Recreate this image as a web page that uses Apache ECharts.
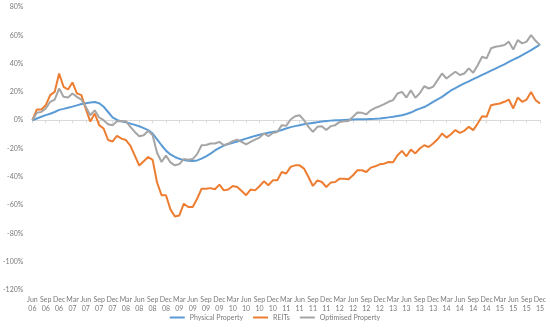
<!DOCTYPE html>
<html><head><meta charset="utf-8">
<script src="https://cdn.jsdelivr.net/npm/echarts@6/dist/echarts.min.js"></script>
<style>html,body{margin:0;padding:0;background:#fff}#c{width:550px;height:330px}</style>
</head><body><div id="c"></div>
<script>
// Monthly categories Jun 06 .. Dec 15
const monthNames = ['Jan','Feb','Mar','Apr','May','Jun','Jul','Aug','Sep','Oct','Nov','Dec'];
const categories = [];
for (let y = 2006, m = 5; y < 2015 || (y === 2015 && m <= 11); ) {
  categories.push(monthNames[m] + '\n' + String(y % 100).padStart(2, '0'));
  m++; if (m > 11) { m = 0; y++; }
}
const yTicks = [-120,-100,-80,-60,-40,-20,0,20,40,60,80];

const physical = [
 0,1.2,2.4,3.6,4.6,5.8,7.3,8.0,8.8,9.6,10.5,11.4,12.0,12.5,12.8,12.0,9.5,5.8,2.0,0.2,
 -0.8,-1.5,-2.4,-3.3,-4.3,-5.6,-7.0,-9.4,-13.5,-17.7,-21.5,-24.2,-26.0,-27.3,-28.2,-28.6,-28.8,-28.4,-27.2,-25.5,
 -23.6,-21.4,-19.5,-18.0,-16.9,-16.0,-15.0,-14.0,-13.0,-12.0,-11.1,-10.3,-9.5,-8.9,-8.3,-7.8,-6.9,-5.9,-4.9,-4.2,
 -3.5,-2.9,-2.4,-1.9,-1.4,-0.9,-0.5,-0.3,-0.1,0.0,0.2,0.4,0.5,0.6,0.7,0.7,0.9,1.0,1.2,1.6,
 2.0,2.4,3.0,3.5,4.4,5.4,7.0,8.2,9.3,11.0,13.0,14.8,16.5,18.8,21.0,22.7,24.4,26.0,27.5,29.0,
 30.5,32.0,33.5,35.0,36.5,38.0,39.5,41.2,42.8,44.3,46.0,47.7,49.5,51.5,53.5
];
const reits = [
 0,7.6,7.6,10.6,17.7,20,33,23.6,21.7,26.7,19,17.7,8,-1,4.7,-3.5,-5.9,-14,-15,-11,
 -13,-14,-18,-25,-32,-29,-26,-28,-44,-53,-53,-63,-68,-67.3,-59,-61.3,-61.3,-55.5,-48.4,-48.5,
 -48,-48.8,-45.5,-49.6,-49,-46.5,-47.2,-50,-53,-49,-49.6,-46.7,-43.2,-46,-42.5,-42.5,-36.6,-37.7,-33,-31.9,
 -31.9,-34.2,-40.1,-46.5,-42.5,-43.7,-47.2,-44.1,-43.7,-41.3,-41.3,-41.8,-38.9,-35.4,-35.4,-36.6,-33.5,-32.6,-31.2,-30.7,
 -29.5,-29.7,-24.8,-21.7,-25.5,-20.7,-23.5,-20,-17.7,-18.9,-16.5,-13.5,-9.4,-12.3,-9.9,-7,-9,-7.5,-4.7,-7,
 -2.4,2.8,2.4,10.6,11.3,11.8,13,14.6,8.3,16,13,14.6,20,14.2,11.8
];
const optimised = [
 0,5.2,5.9,8.3,13,14.6,22.4,16.5,16,18.9,16.5,14.6,9.4,3.5,7,1.9,0,-2.8,-3.5,-0.7,
 -0.5,-0.7,-4.7,-8.3,-11.3,-10.6,-7.5,-10.6,-23,-29.5,-25,-29.8,-31.9,-31,-27.5,-28,-27.5,-24,-17.7,-17.5,
 -16.5,-16.5,-15.3,-17.7,-16.5,-14.8,-13.7,-15.3,-17,-15.3,-13.7,-12.3,-9.4,-11.3,-9,-8.3,-3.5,-4,0.5,2.8,
 3.5,0,-4.7,-8.3,-4.7,-4.2,-7,-4.2,-3.5,-1.2,-0.7,-0.5,2.4,5.4,5.2,4.2,7,8.7,9.9,11.3,
 13,14.2,18.9,20,16,21.2,15.8,19,24,22.4,23.6,28.3,33,29.5,31.9,34.2,31.9,33,36.6,33.5,
 38.9,44.8,43.7,50.8,51.9,52.4,53.1,55.5,50,56.6,54.3,55.5,60.2,56.1,53.1
];

const FONT = 'Lato, "Open Sans", sans-serif';
const TXT = '#7a7a7a';
const chart = echarts.init(document.getElementById('c'), null, {renderer: 'canvas'});
function mk(name, data, color) {
  return { name, type: 'line', data, symbol: 'none', smooth: false,
    lineStyle: { color, width: 2 }, itemStyle: { color }, xAxisIndex: 0 };
}
chart.setOption({
  animation: false,
  backgroundColor: '#fff',
  grid: { left: 31, right: 10, top: 7, bottom: 40, containLabel: false },
  legend: {
    bottom: 4, left: 'center', itemWidth: 15, itemHeight: 2, itemGap: 10,
    icon: 'rect',
    textStyle: { color: TXT, fontSize: 7, fontFamily: FONT },
    data: ['Physical Property', 'REITs', 'Optimised Property']
  },
  xAxis: [{
    type: 'category', data: categories, boundaryGap: false, position: 'bottom',
    axisLine: { show: false, onZero: false }, axisTick: { show: false },
    axisLabel: { interval: 2, color: TXT, fontSize: 7, fontFamily: FONT, lineHeight: 9, margin: 5 },
    splitLine: { show: false }
  }, {
    type: 'category', data: categories, boundaryGap: false, position: 'bottom',
    axisLine: { show: true, onZero: true, lineStyle: { color: '#D9D9D9', width: 1 } },
    axisTick: { show: true, interval: 2, length: 3, inside: false, lineStyle: { color: '#D9D9D9' } },
    axisLabel: { show: false }, splitLine: { show: false }
  }],
  yAxis: {
    type: 'value', min: yTicks[0], max: yTicks[yTicks.length - 1], interval: 20,
    axisLine: { show: false }, axisTick: { show: false }, splitLine: { show: false },
    axisLabel: { formatter: '{value}%', color: TXT, fontSize: 7, fontFamily: FONT, margin: 9 }
  },
  series: [
    mk('Physical Property', physical, '#5B9BD5'),
    mk('REITs', reits, '#ED7D31'),
    mk('Optimised Property', optimised, '#A5A5A5')
  ]
});
</script></body></html>
